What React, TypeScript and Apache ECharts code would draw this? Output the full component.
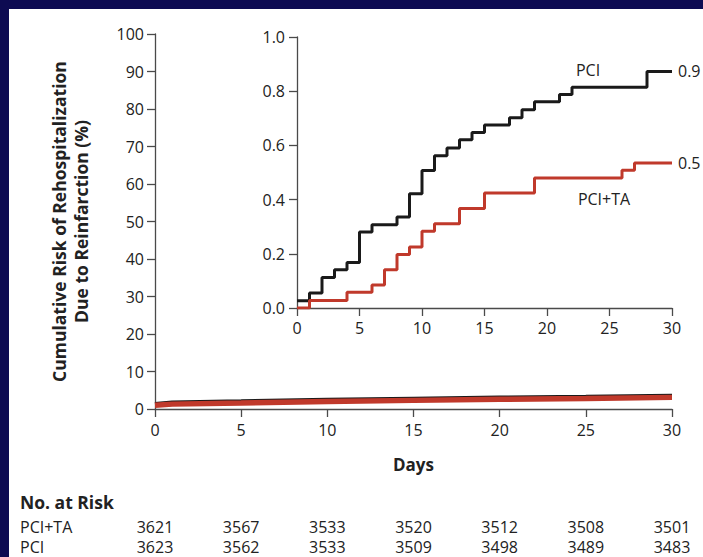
import React, { useEffect, useRef } from "react";
import * as echarts from "echarts";

// Day ticks shared by both panels and the at-risk table
const dayTicks = [0, 5, 10, 15, 20, 25, 30];

// Main panel: cumulative risk (%) over 30 days
const mainDays = [0, 1, 5, 10, 15, 20, 25, 30];
const mainPCI = [1.3, 1.7, 2.0, 2.4, 2.7, 3.0, 3.2, 3.5];
const mainPCITA = [1.0, 1.3, 1.6, 2.0, 2.3, 2.6, 2.8, 3.1];

// Inset: Kaplan-Meier style step estimates (%)
const insetPCIDays = [0, 1, 2, 3, 4, 5, 6, 8, 9, 10, 11, 12, 13, 14, 15, 17, 18, 19, 21, 22, 28, 30];
const insetPCI = [0.027, 0.055, 0.113, 0.141, 0.168, 0.28, 0.307, 0.336, 0.422, 0.507, 0.562, 0.59, 0.621, 0.648, 0.675, 0.702, 0.732, 0.761, 0.788, 0.815, 0.873, 0.873];
const insetTADays = [0, 1, 4, 6, 7, 8, 9, 10, 11, 13, 15, 19, 26, 27, 30];
const insetTA = [0.0, 0.028, 0.058, 0.085, 0.141, 0.197, 0.225, 0.283, 0.311, 0.367, 0.424, 0.48, 0.508, 0.535, 0.535];

// Number at risk at each day tick
const riskPCITA = [3621, 3567, 3533, 3520, 3512, 3508, 3501];
const riskPCI = [3623, 3562, 3533, 3509, 3498, 3489, 3483];

const FONT = "Open Sans";
const INK = "#222";
const AXIS = "#4a4a4a";
const RED = "#c0392b";
const BLACK = "#1a1a1a";
const NAVY = "#0d0b52";

const pairs = (xs: number[], ys: number[]) => xs.map((x, i) => [x, ys[i]]);

export default function App() {
  const ref = useRef<HTMLDivElement>(null);

  useEffect(() => {
    document.body.style.margin = "0";
    const chart = echarts.init(ref.current!, null, { renderer: "svg" });

    const axisLine = { show: true, lineStyle: { color: AXIS, width: 1.3 } };
    const axisTick = { show: true, inside: false, length: 8, lineStyle: { color: AXIS, width: 1.3 } };
    const label = { color: INK, fontSize: 16, fontFamily: FONT };

    const riskAxis = (values: number[], offset: number) => ({
      type: "value",
      gridIndex: 0,
      position: "bottom",
      offset,
      min: 0,
      max: 30,
      interval: 5,
      axisLine: { show: false },
      axisTick: { show: false },
      splitLine: { show: false },
      axisLabel: {
        ...label,
        margin: 0,
        formatter: (v: number) => {
          const i = dayTicks.indexOf(v);
          return i >= 0 ? String(values[i]) : "";
        },
      },
    });

    const endLabel = {
      show: true,
      distance: 6,
      color: INK,
      fontSize: 16,
      fontFamily: FONT,
      formatter: (p: any) => p.value[1].toFixed(1),
    };

    chart.setOption({
      animation: false,
      backgroundColor: "#ffffff",
      textStyle: { fontFamily: FONT },
      grid: [
        { left: 155, right: 31, top: 34, bottom: 148 },
        { left: 297, right: 31, top: 37, bottom: 249 },
      ],
      xAxis: [
        {
          type: "value",
          gridIndex: 0,
          min: 0,
          max: 30,
          interval: 5,
          axisLine,
          axisTick,
          splitLine: { show: false },
          axisLabel: { ...label, margin: 13 },
          name: "Days",
          nameLocation: "middle",
          nameGap: 47,
          nameTextStyle: { color: INK, fontSize: 17, fontWeight: "bold", fontFamily: FONT },
        },
        {
          type: "value",
          gridIndex: 1,
          min: 0,
          max: 30,
          interval: 5,
          axisLine,
          axisTick,
          splitLine: { show: false },
          axisLabel: { ...label, margin: 12 },
        },
        riskAxis(riskPCITA, 110),
        riskAxis(riskPCI, 130),
      ],
      yAxis: [
        {
          type: "value",
          gridIndex: 0,
          min: 0,
          max: 100,
          interval: 10,
          axisLine,
          axisTick,
          splitLine: { show: false },
          axisLabel: { ...label, margin: 11 },
          name: "Cumulative Risk of Rehospitalization\nDue to Reinfarction (%)",
          nameLocation: "middle",
          nameGap: 63,
          nameRotate: 90,
          nameTextStyle: { color: INK, fontSize: 17.5, fontWeight: "bold", fontFamily: FONT, lineHeight: 22, align: "center" },
        },
        {
          type: "value",
          gridIndex: 1,
          min: 0,
          max: 1,
          interval: 0.2,
          axisLine,
          axisTick,
          splitLine: { show: false },
          axisLabel: { ...label, margin: 12, formatter: (v: number) => v.toFixed(1) },
        },
      ],
      series: [
        {
          name: "PCI",
          type: "line",
          xAxisIndex: 0,
          yAxisIndex: 0,
          data: pairs(mainDays, mainPCI),
          symbol: "none",
          lineStyle: { color: BLACK, width: 4.5 },
          z: 3,
        },
        {
          name: "PCI+TA",
          type: "line",
          xAxisIndex: 0,
          yAxisIndex: 0,
          data: pairs(mainDays, mainPCITA),
          symbol: "none",
          lineStyle: { color: RED, width: 5.5 },
          z: 4,
        },
        {
          name: "PCI inset",
          type: "line",
          xAxisIndex: 1,
          yAxisIndex: 1,
          step: "end",
          data: pairs(insetPCIDays, insetPCI),
          symbol: "none",
          lineStyle: { color: BLACK, width: 3 },
          endLabel,
          z: 3,
        },
        {
          name: "PCI+TA inset",
          type: "line",
          xAxisIndex: 1,
          yAxisIndex: 1,
          step: "end",
          data: pairs(insetTADays, insetTA),
          symbol: "none",
          lineStyle: { color: RED, width: 3 },
          endLabel,
          z: 4,
        },
      ],
      graphic: [
        { type: "rect", left: 0, top: 0, shape: { width: 703, height: 9 }, style: { fill: NAVY } },
        { type: "rect", left: 0, top: 0, shape: { width: 9, height: 557 }, style: { fill: NAVY } },
        {
          type: "text",
          x: 588,
          y: 70,
          style: { text: "PCI", fill: INK, fontSize: 16, fontFamily: FONT, align: "center", verticalAlign: "middle" },
        },
        {
          type: "text",
          x: 604,
          y: 199,
          style: { text: "PCI+TA", fill: INK, fontSize: 16, fontFamily: FONT, align: "center", verticalAlign: "middle" },
        },
        {
          type: "text",
          x: 20,
          y: 502,
          style: { text: "No. at Risk", fill: INK, fontSize: 17.5, fontWeight: "bold", fontFamily: FONT, verticalAlign: "middle" },
        },
        {
          type: "text",
          x: 20,
          y: 527,
          style: { text: "PCI+TA", fill: INK, fontSize: 16, fontFamily: FONT, verticalAlign: "middle" },
        },
        {
          type: "text",
          x: 20,
          y: 547,
          style: { text: "PCI", fill: INK, fontSize: 16, fontFamily: FONT, verticalAlign: "middle" },
        },
      ],
    });

    return () => chart.dispose();
  }, []);

  return <div ref={ref} style={{ width: 703, height: 557 }} />;
}
